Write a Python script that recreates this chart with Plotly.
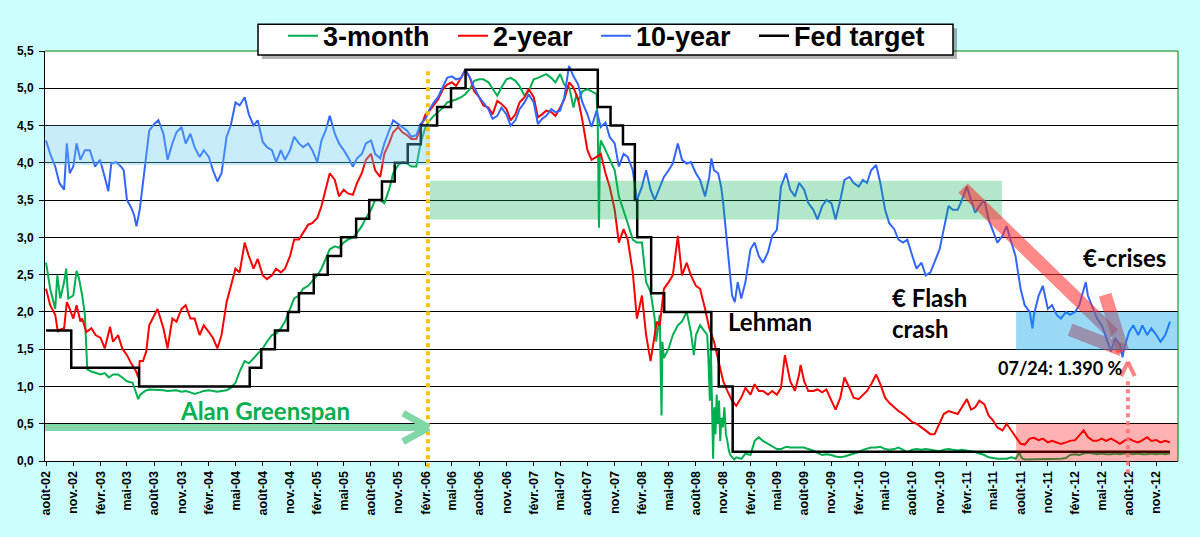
import plotly.graph_objects as go

# ---------------- data ----------------
THREE_MONTH = [
    ("2002-08-01", 2.66), ("2002-08-15", 2.31), ("2002-09-01", 2.04), ("2002-09-08", 2.49), ("2002-09-18", 2.18),
    ("2002-10-01", 2.40), ("2002-10-08", 2.58), ("2002-10-15", 2.18), ("2002-11-01", 2.22), ("2002-11-12", 2.55),
    ("2002-11-20", 2.45), ("2002-12-01", 2.22), ("2002-12-10", 1.96), ("2002-12-18", 1.23),
    ("2003-01-01", 1.20), ("2003-01-15", 1.18), ("2003-02-01", 1.16), ("2003-02-15", 1.18), ("2003-03-01", 1.12),
    ("2003-03-15", 1.16), ("2003-04-01", 1.16), ("2003-04-15", 1.12), ("2003-05-01", 1.07), ("2003-05-20", 1.05),
    ("2003-06-01", 0.89), ("2003-06-08", 0.83), ("2003-06-15", 0.89), ("2003-07-01", 0.94), ("2003-07-15", 0.96),
    ("2003-08-01", 0.96), ("2003-08-15", 0.96), ("2003-09-01", 0.95), ("2003-09-15", 0.94), ("2003-10-01", 0.94),
    ("2003-10-15", 0.95), ("2003-11-01", 0.93), ("2003-11-15", 0.94), ("2003-12-01", 0.92), ("2003-12-15", 0.90),
    ("2004-01-01", 0.92), ("2004-01-15", 0.94), ("2004-02-01", 0.95), ("2004-02-15", 0.94), ("2004-03-01", 0.93),
    ("2004-03-15", 0.94), ("2004-04-01", 0.95), ("2004-04-15", 0.98), ("2004-05-01", 1.05), ("2004-05-15", 1.20),
    ("2004-06-01", 1.34), ("2004-06-15", 1.31), ("2004-07-01", 1.38), ("2004-07-15", 1.45), ("2004-08-01", 1.51),
    ("2004-08-15", 1.60), ("2004-09-01", 1.69), ("2004-09-15", 1.71), ("2004-10-01", 1.78), ("2004-10-15", 1.87),
    ("2004-11-01", 2.04), ("2004-11-15", 2.18), ("2004-12-01", 2.22), ("2004-12-15", 2.31),
    ("2005-01-01", 2.35), ("2005-01-15", 2.42), ("2005-02-01", 2.49), ("2005-02-15", 2.58), ("2005-03-01", 2.71),
    ("2005-03-15", 2.84), ("2005-04-01", 2.88), ("2005-04-15", 2.86), ("2005-05-01", 2.93), ("2005-05-15", 2.97),
    ("2005-06-01", 3.00), ("2005-06-15", 3.06), ("2005-07-01", 3.15), ("2005-07-15", 3.26), ("2005-08-01", 3.37),
    ("2005-08-15", 3.50), ("2005-09-01", 3.50), ("2005-09-15", 3.46), ("2005-10-01", 3.64), ("2005-10-15", 3.86),
    ("2005-11-01", 3.97), ("2005-11-15", 4.01), ("2005-12-01", 3.99), ("2005-12-15", 3.95),
    ("2006-01-01", 3.95), ("2006-01-15", 4.26), ("2006-02-01", 4.48), ("2006-02-15", 4.57), ("2006-03-01", 4.63),
    ("2006-03-15", 4.68), ("2006-04-01", 4.74), ("2006-04-15", 4.81), ("2006-05-01", 4.83), ("2006-05-15", 4.85),
    ("2006-06-01", 4.88), ("2006-06-15", 4.92), ("2006-07-01", 4.99), ("2006-07-15", 5.10), ("2006-08-01", 5.12),
    ("2006-08-15", 5.12), ("2006-09-01", 5.08), ("2006-09-15", 4.99), ("2006-10-01", 4.90), ("2006-10-15", 5.01),
    ("2006-11-01", 5.12), ("2006-11-15", 5.14), ("2006-12-01", 5.10), ("2006-12-15", 5.03),
    ("2007-01-01", 4.90), ("2007-01-15", 4.96), ("2007-02-01", 5.12), ("2007-02-15", 5.14), ("2007-03-01", 5.16),
    ("2007-03-15", 5.19), ("2007-04-01", 5.14), ("2007-04-15", 5.08), ("2007-05-01", 5.19), ("2007-05-15", 5.05),
    ("2007-06-01", 5.01), ("2007-06-15", 4.74), ("2007-06-25", 4.92), ("2007-07-01", 4.83), ("2007-07-15", 4.96),
    ("2007-08-01", 4.99), ("2007-08-15", 4.96), ("2007-09-01", 4.92), ("2007-09-05", 4.48), ("2007-09-09", 3.13),
    ("2007-09-12", 4.17), ("2007-09-15", 4.30), ("2007-10-01", 4.17), ("2007-10-15", 4.04), ("2007-11-01", 3.90),
    ("2007-11-15", 3.55), ("2007-12-01", 3.37), ("2007-12-15", 3.19),
    ("2008-01-01", 2.97), ("2008-01-15", 2.93), ("2008-02-01", 2.93), ("2008-02-15", 2.40), ("2008-03-01", 2.27),
    ("2008-03-10", 2.04), ("2008-03-15", 1.91), ("2008-03-20", 1.60), ("2008-04-01", 1.96), ("2008-04-07", 0.61),
    ("2008-04-10", 1.60), ("2008-04-15", 1.38), ("2008-05-01", 1.51), ("2008-05-15", 1.69), ("2008-06-01", 1.82),
    ("2008-06-15", 1.87), ("2008-07-01", 2.00), ("2008-07-15", 1.73), ("2008-07-25", 1.42), ("2008-08-01", 1.69),
    ("2008-08-15", 1.82), ("2008-09-01", 1.73), ("2008-09-08", 1.69), ("2008-09-12", 1.38), ("2008-09-17", 0.81),
    ("2008-09-20", 1.60), ("2008-09-23", 0.94), ("2008-09-25", 0.50), ("2008-09-28", 0.03), ("2008-10-02", 0.72),
    ("2008-10-06", 0.36), ("2008-10-10", 0.89), ("2008-10-14", 0.50), ("2008-10-18", 0.81), ("2008-10-22", 0.27),
    ("2008-10-26", 0.58), ("2008-10-31", 0.45), ("2008-11-05", 0.72), ("2008-11-10", 0.36), ("2008-11-15", 0.27),
    ("2008-11-20", 0.14), ("2008-11-25", 0.08), ("2008-12-01", 0.05), ("2008-12-08", 0.02), ("2008-12-15", 0.05),
    ("2009-01-01", 0.03), ("2009-01-15", 0.10), ("2009-02-01", 0.08), ("2009-02-15", 0.27), ("2009-03-01", 0.32),
    ("2009-03-15", 0.27), ("2009-04-01", 0.23), ("2009-04-15", 0.19), ("2009-05-01", 0.16), ("2009-05-15", 0.16),
    ("2009-06-01", 0.19), ("2009-06-15", 0.18), ("2009-07-01", 0.18), ("2009-07-15", 0.19), ("2009-08-01", 0.18),
    ("2009-08-15", 0.16), ("2009-09-01", 0.14), ("2009-09-15", 0.11), ("2009-10-01", 0.08), ("2009-10-15", 0.09),
    ("2009-11-01", 0.08), ("2009-11-15", 0.06), ("2009-12-01", 0.05), ("2009-12-15", 0.06),
    ("2010-01-01", 0.08), ("2010-01-15", 0.10), ("2010-02-01", 0.12), ("2010-02-15", 0.15), ("2010-03-01", 0.16),
    ("2010-03-15", 0.18), ("2010-04-01", 0.18), ("2010-04-15", 0.19), ("2010-05-01", 0.16), ("2010-05-15", 0.15),
    ("2010-06-01", 0.16), ("2010-06-15", 0.18), ("2010-07-01", 0.15), ("2010-07-15", 0.12), ("2010-08-01", 0.15),
    ("2010-08-15", 0.16), ("2010-09-01", 0.15), ("2010-09-15", 0.16), ("2010-10-01", 0.15), ("2010-10-15", 0.14),
    ("2010-11-01", 0.13), ("2010-11-15", 0.15), ("2010-12-01", 0.16), ("2010-12-15", 0.15),
    ("2011-01-01", 0.14), ("2011-01-15", 0.15), ("2011-02-01", 0.14), ("2011-02-15", 0.13), ("2011-03-01", 0.12),
    ("2011-03-15", 0.10), ("2011-04-01", 0.08), ("2011-04-15", 0.05), ("2011-05-01", 0.04), ("2011-05-15", 0.03),
    ("2011-06-01", 0.03), ("2011-06-15", 0.03), ("2011-07-01", 0.05), ("2011-07-15", 0.03), ("2011-07-28", 0.11),
    ("2011-08-05", 0.04), ("2011-08-15", 0.02), ("2011-09-01", 0.02), ("2011-09-15", 0.02), ("2011-10-01", 0.02),
    ("2011-10-15", 0.03), ("2011-11-01", 0.02), ("2011-11-15", 0.03), ("2011-12-01", 0.02), ("2011-12-15", 0.03),
    ("2012-01-01", 0.04), ("2012-01-15", 0.08), ("2012-02-01", 0.09), ("2012-02-15", 0.08), ("2012-03-01", 0.10),
    ("2012-03-15", 0.11), ("2012-04-01", 0.10), ("2012-04-15", 0.09), ("2012-05-01", 0.10), ("2012-05-15", 0.09),
    ("2012-06-01", 0.09), ("2012-06-15", 0.10), ("2012-07-01", 0.09), ("2012-07-15", 0.10), ("2012-08-01", 0.10),
    ("2012-08-15", 0.09), ("2012-09-01", 0.10), ("2012-09-15", 0.09), ("2012-10-01", 0.09), ("2012-10-15", 0.10),
    ("2012-11-01", 0.09), ("2012-11-15", 0.10), ("2012-12-01", 0.09), ("2012-12-17", 0.10),
]

TWO_YEAR = [
    ("2002-08-01", 2.31), ("2002-08-15", 2.09), ("2002-09-01", 1.96), ("2002-09-10", 1.73), ("2002-09-15", 1.76),
    ("2002-10-01", 1.78), ("2002-10-10", 2.13), ("2002-10-15", 2.09), ("2002-11-01", 1.91), ("2002-11-12", 2.09),
    ("2002-11-25", 1.87), ("2002-12-01", 1.91), ("2002-12-15", 1.73),
    ("2003-01-01", 1.78), ("2003-01-15", 1.69), ("2003-02-01", 1.65), ("2003-02-15", 1.51), ("2003-03-05", 1.80),
    ("2003-03-15", 1.60), ("2003-04-01", 1.69), ("2003-04-15", 1.51), ("2003-05-01", 1.42), ("2003-05-15", 1.31),
    ("2003-06-01", 1.20), ("2003-06-08", 1.12), ("2003-06-13", 1.34), ("2003-06-24", 1.34), ("2003-07-05", 1.47),
    ("2003-07-15", 1.82), ("2003-08-01", 1.96), ("2003-08-12", 2.04), ("2003-09-01", 1.78), ("2003-09-15", 1.51),
    ("2003-10-01", 1.91), ("2003-10-15", 1.87), ("2003-11-01", 2.04), ("2003-11-15", 2.09), ("2003-12-01", 1.91),
    ("2003-12-15", 1.91),
    ("2004-01-01", 1.69), ("2004-01-15", 1.82), ("2004-02-01", 1.73), ("2004-02-15", 1.65), ("2004-03-01", 1.51),
    ("2004-03-15", 1.69), ("2004-04-01", 2.13), ("2004-04-15", 2.35), ("2004-05-01", 2.58), ("2004-05-15", 2.53),
    ("2004-06-01", 2.93), ("2004-06-15", 2.75), ("2004-07-01", 2.58), ("2004-07-15", 2.71), ("2004-08-01", 2.49),
    ("2004-08-15", 2.44), ("2004-09-01", 2.49), ("2004-09-15", 2.58), ("2004-10-01", 2.53), ("2004-10-15", 2.58),
    ("2004-11-01", 2.75), ("2004-11-15", 2.97), ("2004-12-01", 2.97), ("2004-12-15", 3.06),
    ("2005-01-01", 3.17), ("2005-01-15", 3.19), ("2005-02-01", 3.26), ("2005-02-15", 3.42), ("2005-03-01", 3.64),
    ("2005-03-15", 3.86), ("2005-04-01", 3.77), ("2005-04-15", 3.55), ("2005-05-01", 3.64), ("2005-05-15", 3.59),
    ("2005-06-01", 3.57), ("2005-06-15", 3.73), ("2005-07-01", 3.86), ("2005-07-15", 4.04), ("2005-08-01", 4.12),
    ("2005-08-15", 3.90), ("2005-09-01", 3.81), ("2005-09-15", 4.12), ("2005-10-01", 4.26), ("2005-10-15", 4.41),
    ("2005-11-01", 4.48), ("2005-11-15", 4.41), ("2005-12-01", 4.37), ("2005-12-15", 4.32),
    ("2006-01-01", 4.32), ("2006-01-15", 4.48), ("2006-02-01", 4.65), ("2006-02-15", 4.70), ("2006-03-01", 4.77),
    ("2006-03-15", 4.85), ("2006-04-01", 4.99), ("2006-04-15", 5.05), ("2006-05-01", 5.08), ("2006-05-15", 5.03),
    ("2006-06-01", 5.14), ("2006-06-15", 5.25), ("2006-07-01", 5.14), ("2006-07-15", 4.96), ("2006-08-01", 4.88),
    ("2006-08-15", 4.77), ("2006-09-01", 4.74), ("2006-09-15", 4.65), ("2006-10-01", 4.83), ("2006-10-15", 4.79),
    ("2006-11-01", 4.72), ("2006-11-15", 4.57), ("2006-12-01", 4.65), ("2006-12-15", 4.81),
    ("2007-01-01", 4.88), ("2007-01-15", 4.99), ("2007-02-01", 4.88), ("2007-02-15", 4.61), ("2007-03-01", 4.65),
    ("2007-03-15", 4.70), ("2007-04-01", 4.68), ("2007-04-15", 4.63), ("2007-05-01", 4.74), ("2007-05-15", 4.85),
    ("2007-06-01", 5.08), ("2007-06-15", 5.01), ("2007-07-01", 4.85), ("2007-07-15", 4.57), ("2007-08-01", 4.17),
    ("2007-08-15", 4.04), ("2007-09-01", 4.08), ("2007-09-15", 4.12), ("2007-10-01", 3.86), ("2007-10-15", 3.68),
    ("2007-11-01", 3.37), ("2007-11-15", 2.93), ("2007-12-01", 3.11), ("2007-12-15", 2.97),
    ("2008-01-01", 2.53), ("2008-01-15", 1.91), ("2008-02-01", 2.22), ("2008-02-15", 1.69), ("2008-03-01", 1.34),
    ("2008-03-15", 1.69), ("2008-03-22", 1.87), ("2008-04-01", 1.82), ("2008-04-15", 2.31), ("2008-05-01", 2.40),
    ("2008-05-15", 2.49), ("2008-06-01", 3.02), ("2008-06-15", 2.49), ("2008-07-01", 2.66), ("2008-07-15", 2.49),
    ("2008-08-01", 2.35), ("2008-08-15", 2.31), ("2008-09-01", 2.04), ("2008-09-15", 1.78), ("2008-10-01", 1.60),
    ("2008-10-15", 1.34), ("2008-11-01", 1.07), ("2008-11-15", 0.94), ("2008-12-01", 0.81), ("2008-12-15", 0.74),
    ("2009-01-01", 0.85), ("2009-01-15", 0.98), ("2009-02-01", 0.89), ("2009-02-15", 1.03), ("2009-03-01", 0.94),
    ("2009-03-15", 0.94), ("2009-04-01", 0.89), ("2009-04-15", 0.94), ("2009-05-01", 0.89), ("2009-05-15", 0.98),
    ("2009-05-28", 1.42), ("2009-06-15", 1.07), ("2009-07-01", 0.94), ("2009-07-15", 1.16), ("2009-07-20", 1.29),
    ("2009-08-01", 1.07), ("2009-08-15", 0.94), ("2009-09-01", 0.94), ("2009-09-15", 0.96), ("2009-10-01", 0.92),
    ("2009-10-15", 0.96), ("2009-11-01", 0.81), ("2009-11-15", 0.69), ("2009-12-01", 0.85), ("2009-12-15", 1.12),
    ("2010-01-01", 0.98), ("2010-01-15", 0.85), ("2010-02-01", 0.83), ("2010-02-15", 0.89), ("2010-03-01", 0.94),
    ("2010-03-15", 1.03), ("2010-04-01", 1.16), ("2010-04-15", 1.03), ("2010-05-01", 0.85), ("2010-05-15", 0.78),
    ("2010-06-01", 0.72), ("2010-06-15", 0.67), ("2010-07-01", 0.63), ("2010-07-15", 0.58), ("2010-08-01", 0.52),
    ("2010-08-15", 0.50), ("2010-09-01", 0.45), ("2010-09-15", 0.41), ("2010-10-01", 0.36), ("2010-10-15", 0.36),
    ("2010-11-01", 0.50), ("2010-11-15", 0.63), ("2010-12-01", 0.67), ("2010-12-15", 0.65),
    ("2011-01-01", 0.63), ("2011-01-15", 0.72), ("2011-02-01", 0.83), ("2011-02-15", 0.69), ("2011-03-01", 0.72),
    ("2011-03-15", 0.81), ("2011-04-01", 0.76), ("2011-04-15", 0.61), ("2011-05-01", 0.54), ("2011-05-15", 0.45),
    ("2011-06-01", 0.41), ("2011-06-15", 0.50), ("2011-07-01", 0.41), ("2011-07-15", 0.34), ("2011-08-01", 0.23),
    ("2011-08-15", 0.22), ("2011-09-01", 0.30), ("2011-09-15", 0.31), ("2011-10-01", 0.28), ("2011-10-15", 0.30),
    ("2011-11-01", 0.25), ("2011-11-15", 0.27), ("2011-12-01", 0.25), ("2011-12-15", 0.23),
    ("2012-01-01", 0.25), ("2012-01-15", 0.27), ("2012-02-01", 0.28), ("2012-02-15", 0.34), ("2012-03-01", 0.41),
    ("2012-03-15", 0.32), ("2012-04-01", 0.27), ("2012-04-15", 0.27), ("2012-05-01", 0.30), ("2012-05-15", 0.27),
    ("2012-06-01", 0.30), ("2012-06-15", 0.27), ("2012-07-01", 0.23), ("2012-07-15", 0.27), ("2012-08-01", 0.30),
    ("2012-08-15", 0.27), ("2012-09-01", 0.25), ("2012-09-15", 0.28), ("2012-10-01", 0.32), ("2012-10-15", 0.27),
    ("2012-11-01", 0.28), ("2012-11-15", 0.25), ("2012-12-01", 0.27), ("2012-12-17", 0.25),
]

TEN_YEAR = [
    ("2002-08-01", 4.30), ("2002-08-15", 4.12), ("2002-09-01", 3.95), ("2002-09-15", 3.73), ("2002-10-01", 3.64),
    ("2002-10-10", 4.26), ("2002-10-20", 3.86), ("2002-11-01", 3.95), ("2002-11-12", 4.26), ("2002-11-25", 4.04),
    ("2002-12-10", 4.17), ("2002-12-27", 4.17), ("2003-01-13", 3.95), ("2003-01-30", 4.04), ("2003-02-15", 3.81),
    ("2003-02-27", 3.62), ("2003-03-09", 3.99), ("2003-03-25", 4.01), ("2003-04-11", 3.95), ("2003-04-20", 3.90),
    ("2003-05-01", 3.50), ("2003-05-15", 3.40), ("2003-05-25", 3.30), ("2003-06-02", 3.15), ("2003-06-13", 3.37),
    ("2003-06-28", 3.90), ("2003-07-15", 4.43), ("2003-08-01", 4.52), ("2003-08-15", 4.57), ("2003-09-01", 4.39),
    ("2003-09-15", 4.04), ("2003-10-01", 4.26), ("2003-10-15", 4.41), ("2003-11-01", 4.48), ("2003-11-15", 4.26),
    ("2003-12-01", 4.39), ("2003-12-15", 4.21),
    ("2004-01-01", 4.08), ("2004-01-15", 4.17), ("2004-02-01", 4.08), ("2004-02-15", 3.90), ("2004-03-01", 3.75),
    ("2004-03-15", 3.86), ("2004-04-01", 4.35), ("2004-04-15", 4.50), ("2004-05-01", 4.81), ("2004-05-15", 4.77),
    ("2004-06-01", 4.88), ("2004-06-15", 4.65), ("2004-07-01", 4.50), ("2004-07-15", 4.57), ("2004-08-01", 4.28),
    ("2004-08-15", 4.21), ("2004-09-01", 4.17), ("2004-09-15", 4.01), ("2004-10-01", 4.17), ("2004-10-15", 4.04),
    ("2004-11-01", 4.17), ("2004-11-15", 4.35), ("2004-12-01", 4.26), ("2004-12-15", 4.21),
    ("2005-01-01", 4.26), ("2005-01-15", 4.17), ("2005-02-01", 4.01), ("2005-02-15", 4.30), ("2005-03-01", 4.43),
    ("2005-03-15", 4.63), ("2005-04-01", 4.39), ("2005-04-15", 4.26), ("2005-05-01", 4.17), ("2005-05-15", 4.08),
    ("2005-06-01", 3.95), ("2005-06-15", 4.06), ("2005-07-01", 4.12), ("2005-07-15", 4.26), ("2005-08-01", 4.30),
    ("2005-08-15", 4.12), ("2005-09-01", 4.06), ("2005-09-15", 4.26), ("2005-10-01", 4.43), ("2005-10-15", 4.57),
    ("2005-11-01", 4.52), ("2005-11-15", 4.48), ("2005-12-01", 4.43), ("2005-12-15", 4.35),
    ("2006-01-01", 4.37), ("2006-01-15", 4.52), ("2006-02-01", 4.59), ("2006-02-15", 4.72), ("2006-03-01", 4.81),
    ("2006-03-15", 4.88), ("2006-04-01", 5.03), ("2006-04-15", 5.14), ("2006-05-01", 5.16), ("2006-05-15", 5.12),
    ("2006-06-01", 5.14), ("2006-06-15", 5.25), ("2006-07-01", 5.14), ("2006-07-15", 5.01), ("2006-08-01", 4.88),
    ("2006-08-15", 4.81), ("2006-09-01", 4.72), ("2006-09-15", 4.59), ("2006-10-01", 4.63), ("2006-10-15", 4.74),
    ("2006-11-01", 4.65), ("2006-11-15", 4.50), ("2006-12-01", 4.57), ("2006-12-15", 4.72),
    ("2007-01-01", 4.81), ("2007-01-15", 4.92), ("2007-02-01", 4.81), ("2007-02-15", 4.52), ("2007-03-01", 4.59),
    ("2007-03-15", 4.63), ("2007-04-01", 4.72), ("2007-04-15", 4.68), ("2007-05-01", 4.70), ("2007-05-15", 4.88),
    ("2007-05-31", 5.30), ("2007-06-15", 5.16), ("2007-07-01", 5.05), ("2007-07-15", 4.81), ("2007-08-01", 4.65),
    ("2007-08-15", 4.48), ("2007-09-01", 4.70), ("2007-09-15", 4.48), ("2007-10-01", 4.54), ("2007-10-15", 4.35),
    ("2007-11-01", 4.26), ("2007-11-15", 3.95), ("2007-12-01", 4.12), ("2007-12-15", 4.08),
    ("2008-01-01", 3.90), ("2008-01-15", 3.50), ("2008-02-01", 3.68), ("2008-02-15", 3.90), ("2008-03-01", 3.64),
    ("2008-03-15", 3.50), ("2008-04-01", 3.68), ("2008-04-15", 3.81), ("2008-05-01", 3.90), ("2008-05-15", 3.99),
    ("2008-06-01", 4.26), ("2008-06-15", 4.04), ("2008-07-01", 3.99), ("2008-07-15", 4.01), ("2008-08-01", 3.86),
    ("2008-08-15", 3.77), ("2008-09-01", 3.55), ("2008-09-15", 3.81), ("2008-09-22", 4.06), ("2008-10-01", 3.90),
    ("2008-10-15", 3.86), ("2008-10-25", 3.68), ("2008-11-01", 3.46), ("2008-11-15", 2.84), ("2008-12-01", 2.22),
    ("2008-12-10", 2.13), ("2008-12-20", 2.40),
    ("2009-01-01", 2.18), ("2009-01-15", 2.40), ("2009-02-01", 2.84), ("2009-02-15", 2.93), ("2009-03-01", 2.75),
    ("2009-03-15", 2.66), ("2009-04-01", 2.80), ("2009-04-15", 3.02), ("2009-05-01", 3.10), ("2009-05-15", 3.68),
    ("2009-06-01", 3.86), ("2009-06-15", 3.64), ("2009-07-01", 3.55), ("2009-07-15", 3.73), ("2009-08-01", 3.64),
    ("2009-08-15", 3.46), ("2009-09-01", 3.37), ("2009-09-15", 3.24), ("2009-10-01", 3.42), ("2009-10-15", 3.50),
    ("2009-11-01", 3.46), ("2009-11-15", 3.24), ("2009-12-01", 3.50), ("2009-12-15", 3.77),
    ("2010-01-01", 3.81), ("2010-01-15", 3.73), ("2010-02-01", 3.68), ("2010-02-15", 3.77), ("2010-03-01", 3.73),
    ("2010-03-15", 3.90), ("2010-04-01", 3.97), ("2010-04-15", 3.73), ("2010-05-01", 3.37), ("2010-05-15", 3.19),
    ("2010-06-01", 3.11), ("2010-06-15", 2.97), ("2010-07-01", 2.93), ("2010-07-15", 2.97), ("2010-08-01", 2.75),
    ("2010-08-15", 2.58), ("2010-09-01", 2.66), ("2010-09-15", 2.49), ("2010-10-01", 2.53), ("2010-10-15", 2.66),
    ("2010-11-01", 2.84), ("2010-11-15", 3.11), ("2010-12-01", 3.42), ("2010-12-15", 3.37),
    ("2011-01-01", 3.37), ("2011-01-15", 3.50), ("2011-02-01", 3.68), ("2011-02-15", 3.50), ("2011-03-01", 3.33),
    ("2011-03-15", 3.42), ("2011-04-01", 3.50), ("2011-04-15", 3.24), ("2011-05-01", 3.06), ("2011-05-15", 2.93),
    ("2011-06-01", 3.02), ("2011-06-15", 3.15), ("2011-07-01", 2.93), ("2011-07-15", 2.75), ("2011-08-01", 2.31),
    ("2011-08-15", 2.09), ("2011-09-01", 2.00), ("2011-09-10", 1.78), ("2011-09-15", 1.96), ("2011-10-01", 2.22),
    ("2011-10-15", 2.35), ("2011-11-01", 2.04), ("2011-11-15", 2.09), ("2011-12-01", 1.96), ("2011-12-15", 1.91),
    ("2012-01-01", 2.00), ("2012-01-15", 1.96), ("2012-02-01", 2.00), ("2012-02-15", 2.09), ("2012-03-01", 2.31),
    ("2012-03-08", 2.40), ("2012-03-15", 2.22), ("2012-04-01", 2.04), ("2012-04-15", 1.91), ("2012-05-01", 1.82),
    ("2012-05-15", 1.65), ("2012-06-01", 1.47), ("2012-06-15", 1.65), ("2012-07-01", 1.56), ("2012-07-10", 1.39),
    ("2012-07-15", 1.51), ("2012-08-01", 1.73), ("2012-08-15", 1.82), ("2012-09-01", 1.69), ("2012-09-15", 1.82),
    ("2012-10-01", 1.69), ("2012-10-15", 1.78), ("2012-11-01", 1.69), ("2012-11-15", 1.60), ("2012-12-01", 1.69),
    ("2012-12-10", 1.78), ("2012-12-17", 1.87),
]

FED_TARGET = [
    ("2002-08-01", 1.75), ("2002-10-25", 1.25), ("2003-06-11", 1.00), ("2004-06-18", 1.25), ("2004-07-27", 1.50),
    ("2004-09-11", 1.75), ("2004-10-25", 2.00), ("2004-12-01", 2.25), ("2005-01-20", 2.50), ("2005-03-08", 2.75),
    ("2005-04-22", 3.00), ("2005-06-12", 3.25), ("2005-07-26", 3.50), ("2005-09-07", 3.75), ("2005-10-20", 4.00),
    ("2005-12-03", 4.25), ("2006-01-16", 4.50), ("2006-03-12", 4.75), ("2006-04-28", 5.00), ("2006-06-16", 5.25),
    ("2007-09-05", 4.75), ("2007-10-18", 4.50), ("2007-11-29", 4.25), ("2008-01-08", 3.50), ("2008-01-16", 3.00),
    ("2008-03-03", 2.25), ("2008-04-16", 2.00), ("2008-09-22", 1.50), ("2008-10-17", 1.00), ("2008-12-03", 0.125),
    ("2012-12-17", 0.125),
]

TICK_DATES = [
    "2002-08-01", "2002-11-01", "2003-02-01", "2003-05-01", "2003-08-01", "2003-11-01", "2004-02-01",
    "2004-05-01", "2004-08-01", "2004-11-01", "2005-02-01", "2005-05-01", "2005-08-01", "2005-11-01",
    "2006-02-01", "2006-05-01", "2006-08-01", "2006-11-01", "2007-02-01", "2007-05-01", "2007-08-01",
    "2007-11-01", "2008-02-01", "2008-05-01", "2008-08-01", "2008-11-01", "2009-02-01", "2009-05-01",
    "2009-08-01", "2009-11-01", "2010-02-01", "2010-05-01", "2010-08-01", "2010-11-01", "2011-02-01",
    "2011-05-01", "2011-08-01", "2011-11-01", "2012-02-01", "2012-05-01", "2012-08-01", "2012-11-01",
]
TICK_LABELS = [
    "août-02", "nov.-02", "févr.-03", "mai-03", "août-03", "nov.-03", "févr.-04",
    "mai-04", "août-04", "nov.-04", "févr.-05", "mai-05", "août-05", "nov.-05",
    "févr.-06", "mai-06", "août-06", "nov.-06", "févr.-07", "mai-07", "août-07",
    "nov.-07", "févr.-08", "mai-08", "août-08", "nov.-08", "févr.-09", "mai-09",
    "août-09", "nov.-09", "févr.-10", "mai-10", "août-10", "nov.-10", "févr.-11",
    "mai-11", "août-11", "nov.-11", "févr.-12", "mai-12", "août-12", "nov.-12",
]
Y_TICKS = [0.0, 0.5, 1.0, 1.5, 2.0, 2.5, 3.0, 3.5, 4.0, 4.5, 5.0, 5.5]
Y_LABELS = ["0,0", "0,5", "1,0", "1,5", "2,0", "2,5", "3,0", "3,5", "4,0", "4,5", "5,0", "5,5"]

SERIES_NAMES = ["3-month", "2-year", "10-year", "Fed target"]

# ---------------- figure ----------------
ARIAL = "Liberation Sans, Arial, sans-serif"
CALIB = "Lato, Carlito, sans-serif"

fig = go.Figure()
styles = [
    (THREE_MONTH, "#00B050", 2, "linear", 125),
    (TWO_YEAR, "#FF0000", 2, "linear", 98),
    (TEN_YEAR, "#3366FF", 2, "linear", 113),
    (FED_TARGET, "#000000", 2.5, "hv", 135),
]
for name, (data, color, width, shape, lw) in zip(SERIES_NAMES, styles):
    fig.add_trace(go.Scatter(
        x=[d for d, _ in data], y=[v for _, v in data], mode="lines", name=name,
        line=dict(color=color, width=width, shape=shape), legendwidth=lw,
    ))

X_START, X_END = "2002-07-28 12:00", "2013-01-13"

shapes = []
# plot border (top/right in green)
shapes.append(dict(type="line", xref="paper", yref="paper", x0=0, x1=1, y0=1, y1=1,
                   line=dict(color="#008000", width=1), layer="above"))
shapes.append(dict(type="line", xref="paper", yref="paper", x0=1, x1=1, y0=0, y1=1,
                   line=dict(color="#008000", width=1), layer="above"))
# highlighted bands
shapes.append(dict(type="rect", xref="x", yref="y", x0=X_START, x1="2006-02-16", y0=3.97, y1=4.5,
                   fillcolor="rgba(100,200,240,0.35)", line=dict(width=0), layer="above"))
shapes.append(dict(type="rect", xref="x", yref="y", x0="2006-02-16", x1="2011-05-30", y0=3.24, y1=3.76,
                   fillcolor="rgba(0,176,80,0.30)", line=dict(width=0), layer="above"))
# red descending arrow (drawn before blue band so the band tints it)
RED_ARROW = "rgba(255,40,40,0.55)"
shapes.append(dict(type="line", xref="x", yref="y", x0="2011-01-19", y0=3.66, x1="2012-06-10", y1=1.70,
                   line=dict(color=RED_ARROW, width=13), layer="above"))
shapes.append(dict(type="line", xref="x", yref="y", x0="2012-01-15", y0=1.76, x1="2012-07-08", y1=1.49,
                   line=dict(color=RED_ARROW, width=13), layer="above"))
shapes.append(dict(type="line", xref="x", yref="y", x0="2012-05-12", y0=2.23, x1="2012-07-11", y1=1.47,
                   line=dict(color=RED_ARROW, width=13), layer="above"))
shapes.append(dict(type="rect", xref="x", yref="y", x0="2011-07-17", x1=X_END, y0=1.49, y1=2.0,
                   fillcolor="rgba(0,160,230,0.40)", line=dict(width=0), layer="above"))
shapes.append(dict(type="rect", xref="x", yref="y", x0="2011-07-17", x1=X_END, y0=-0.03, y1=0.5,
                   fillcolor="rgba(255,0,0,0.30)", line=dict(width=0), layer="above"))
# Greenspan -> Bernanke divider
shapes.append(dict(type="line", xref="x", yref="paper", x0="2006-02-09", x1="2006-02-09", y0=-0.015, y1=0.96,
                   line=dict(color="#FFC000", width=4, dash="dot"), layer="above"))
# green Greenspan arrow
GREEN_ARROW = "#80D8A8"
shapes.append(dict(type="line", xref="x", yref="y", x0=X_START, y0=0.45, x1="2006-02-06", y1=0.45,
                   line=dict(color=GREEN_ARROW, width=7), layer="above"))
shapes.append(dict(type="line", xref="x", yref="y", x0="2005-11-17", y0=0.64, x1="2006-02-12", y1=0.45,
                   line=dict(color=GREEN_ARROW, width=7), layer="above"))
shapes.append(dict(type="line", xref="x", yref="y", x0="2005-11-17", y0=0.26, x1="2006-02-12", y1=0.45,
                   line=dict(color=GREEN_ARROW, width=7), layer="above"))
# pink dotted arrow to the 10-year low
PINK = "rgba(255,110,110,0.85)"
shapes.append(dict(type="line", xref="x", yref="paper", x0="2012-07-28", x1="2012-07-28", y0=-0.03, y1=0.205,
                   line=dict(color=PINK, width=4, dash="dot"), layer="above"))
shapes.append(dict(type="line", xref="x", yref="y", x0="2012-07-05", y0=1.14, x1="2012-07-28", y1=1.33,
                   line=dict(color=PINK, width=4), layer="above"))
shapes.append(dict(type="line", xref="x", yref="y", x0="2012-08-20", y0=1.14, x1="2012-07-28", y1=1.33,
                   line=dict(color=PINK, width=4), layer="above"))
# legend box with shadow
PW, PH, L, B = 1133.0, 415.0, 45.0, 461.0
def px(xp):
    return (xp - L) / PW
def py(yp):
    return (B - yp) / PH
shapes.append(dict(type="rect", xref="paper", yref="paper", x0=px(262), x1=px(957), y0=py(54), y1=py(23),
                   fillcolor="rgba(0,0,0,0.30)", line=dict(width=0), layer="above"))
shapes.append(dict(type="rect", xref="paper", yref="paper", x0=px(258), x1=px(953), y0=py(50), y1=py(19),
                   fillcolor="white", line=dict(color="black", width=1.5), layer="above"))

annotations = [
    dict(text="Alan Greenspan", x="2004-08-09", y=0.676, xref="x", yref="y", showarrow=False,
         xanchor="center", yanchor="middle", font=dict(family=CALIB, size=24, color="#00B050", weight="bold")),
    dict(text="Lehman", x="2009-04-08", y=1.87, xref="x", yref="y", showarrow=False,
         xanchor="center", yanchor="middle", font=dict(family=CALIB, size=24, color="black", weight="bold")),
    dict(text="€ Flash<br>crash", x="2010-05-18", y=1.98, xref="x", yref="y", showarrow=False,
         xanchor="left", yanchor="middle", align="left",
         font=dict(family=CALIB, size=24, color="black", weight="bold")),
    dict(text="€-crises", x="2012-07-18", y=2.73, xref="x", yref="y", showarrow=False,
         xanchor="center", yanchor="middle", font=dict(family=CALIB, size=24, color="black", weight="bold")),
    dict(text="07/24: 1.390 %", x="2011-12-12", y=1.246, xref="x", yref="y", showarrow=False,
         xanchor="center", yanchor="middle", font=dict(family=CALIB, size=18, color="black", weight="bold")),
]

fig.update_layout(
    width=1200, height=537,
    margin=dict(l=45, r=22, t=46, b=76, pad=0),
    paper_bgcolor="#CCFFFF", plot_bgcolor="white",
    showlegend=True,
    legend=dict(orientation="h", x=px(283), xanchor="left", y=py(31), yanchor="middle",
                bgcolor="rgba(0,0,0,0)", borderwidth=0, itemwidth=30, traceorder="normal",
                font=dict(family=ARIAL, size=27, color="black", weight="bold")),
    xaxis=dict(type="date", range=[X_START, X_END], tickmode="array", tickvals=TICK_DATES,
               ticktext=TICK_LABELS, tickangle=-90, ticks="outside", ticklen=4, tickcolor="black",
               tickfont=dict(family=ARIAL, size=12.5, color="black", weight="bold"),
               showline=True, linecolor="black", linewidth=1, showgrid=False, zeroline=False),
    yaxis=dict(range=[0, 5.5], tickmode="array", tickvals=Y_TICKS, ticktext=Y_LABELS,
               ticks="outside", ticklen=5, tickcolor="black", ticklabelstandoff=3,
               tickfont=dict(family=ARIAL, size=12, color="black", weight="bold"),
               showline=True, linecolor="black", linewidth=1, showgrid=True, gridcolor="black",
               gridwidth=1, zeroline=False),
    shapes=shapes,
    annotations=annotations,
    hovermode=False,
)

fig.write_html("out.html", config={"displayModeBar": False},
               post_script="document.body.style.margin='0';document.body.style.overflow='hidden';")
